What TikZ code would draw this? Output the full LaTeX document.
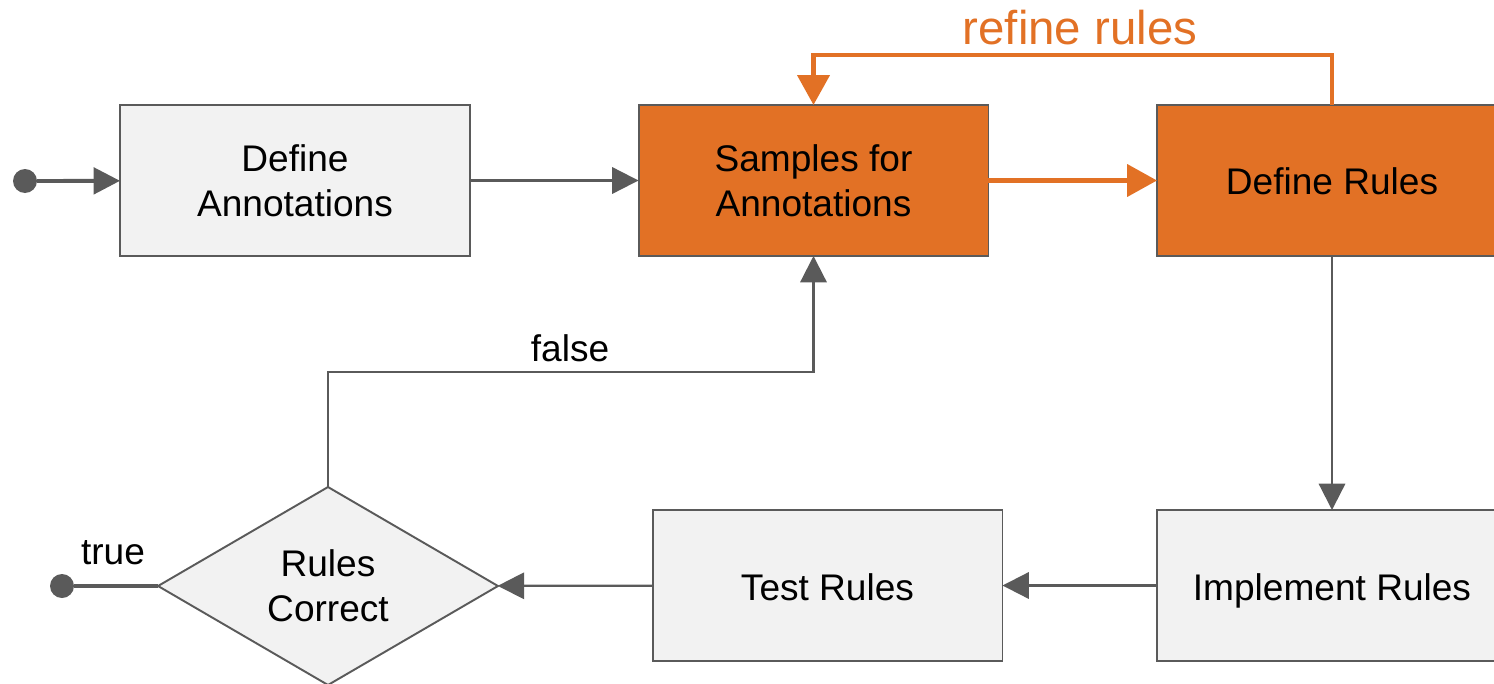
\documentclass[tikz,border=0pt]{standalone}
\usepackage{fontspec}
\setmainfont{Liberation Sans}
\usetikzlibrary{arrows.meta,shapes.geometric}
\definecolor{edge}{HTML}{5A5A5A}
\definecolor{boxfill}{HTML}{F2F2F2}
\definecolor{accent}{HTML}{E27125}

\begin{document}
\begin{tikzpicture}[x=0.02cm,y=-0.02cm,
  lbl/.style={font=\fontsize{21.1}{25.5}\selectfont, align=center, text=black},
  stepbox/.style={draw=edge, line width=1.1pt, fill=boxfill,
    minimum width=7cm, minimum height=3.02cm, inner sep=0pt, outer sep=0pt, lbl},
  oneline/.style={text height=16.5pt, text depth=0pt},
  hotbox/.style={stepbox, fill=accent},
  decision/.style={diamond, draw=edge, line width=1.1pt, fill=boxfill,
    minimum width=6.8cm, minimum height=3.96cm, inner sep=0pt, outer sep=0pt, lbl},
  dot/.style={circle, fill=edge, minimum size=0.48cm, inner sep=0pt, outer sep=0pt},
  flow/.style={draw=edge, line width=1.25pt, -{Triangle[length=15pt,width=15pt]}},
  heavyflow/.style={draw=edge, line width=2.2pt, -{Triangle[length=15pt,width=15pt]}},
  hotflow/.style={draw=accent, line width=2.8pt, -{Triangle[length=17pt,width=18pt]}},
]
\clip (0,0) rectangle (1494,683);

% process steps
\node[stepbox] (defann) at (295,180.5) {Define\\Annotations};
\node[hotbox]  (samples) at (813.5,180.5) {Samples for\\Annotations};
\node[hotbox, oneline]  (rules) at (1332,180.5) {Define Rules};
\node[stepbox, oneline] (impl) at (1332,585.5) {Implement Rules};
\node[stepbox, oneline] (test) at (827.5,585.5) {Test Rules};
\node[decision] (check) at (328,586) {Rules\\Correct};

% start and end markers
\node[dot] (start) at (25,181) {};
\node[dot] (finish) at (62,586) {};

% main flow
\draw[heavyflow] (start) -- (defann);
\draw[flow] (defann) -- (samples);
\draw[hotflow] (samples) -- (rules);
\draw[flow] (rules) -- (impl);
\draw[flow] (impl) -- (test);
\draw[flow] (test) -- (check);
\draw[draw=edge, line width=2.2pt] (check.west) -- (finish);

% refinement loop
\coordinate (loopturn) at (1332,55);
\draw[hotflow] (rules.north) -- (loopturn) -| (samples.north);
\node[font=\fontsize{27}{32}\selectfont, text=accent] (refine) at (1080,28) {refine rules};

% retry on failure
\coordinate (failturn) at (328,372);
\draw[flow] (check.north) -- (failturn) -| (samples.south);
\node[lbl] (falselbl) at (570,348) {false};
\node[lbl] (truelbl) at (113,553) {true};
\end{tikzpicture}
\end{document}
